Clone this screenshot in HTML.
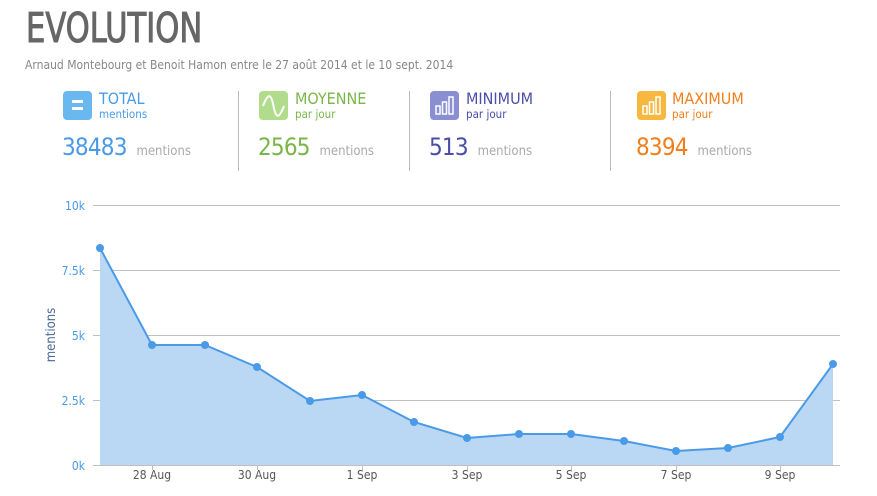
<!DOCTYPE html>
<html><head><meta charset="utf-8"><style>
body{margin:0;width:877px;height:496px;background:#fff;font-family:"DejaVu Sans Condensed","Liberation Sans",sans-serif;overflow:hidden}
.abs{position:absolute}
.num{font-size:24px;letter-spacing:-0.8px}
.num span{letter-spacing:0}
</style></head><body>
<div class="abs" style="left:26px;top:4px;font-size:41px;color:#666;transform:scaleX(0.83);transform-origin:0 0;-webkit-text-stroke:1px #666">EVOLUTION</div>
<div class="abs" style="left:25px;top:58px;font-size:12px;color:#888">Arnaud Montebourg et Benoit Hamon entre le 27 août 2014 et le 10 sept. 2014</div>

<div class="abs" style="left:63px;top:91px;width:29px;height:29px;border-radius:4px;background:#6ab8f0"><div class="abs" style="left:9px;top:9px;width:11px;height:3px;background:#fff"></div><div class="abs" style="left:9px;top:16px;width:11px;height:3px;background:#fff"></div></div>
<div class="abs" style="left:99px;top:89px;font-size:16px;color:#4a9ae8">TOTAL</div>
<div class="abs" style="left:99px;top:107px;font-size:11.5px;color:#4a9ae8">mentions</div>
<div class="abs num" style="left:62px;top:133px;color:#4a9ae8">38483 <span style="font-size:13px;color:#aaa">&nbsp;mentions</span></div>
<div class="abs" style="left:238px;top:91px;width:1px;height:80px;background:#bbb"></div>

<div class="abs" style="left:259px;top:91px;width:29px;height:29px;border-radius:4px;background:#b0dc8c"><svg width="29" height="29"><path d="M4 15 C9 2 12 2 14.5 15 S20 28 25 15" stroke="#fff" stroke-width="2" fill="none"/></svg></div>
<div class="abs" style="left:295px;top:89px;font-size:16px;color:#7ab648">MOYENNE</div>
<div class="abs" style="left:295px;top:107px;font-size:11.5px;color:#7ab648">par jour</div>
<div class="abs num" style="left:258px;top:133px;color:#7ab648">2565 <span style="font-size:13px;color:#aaa">&nbsp;mentions</span></div>
<div class="abs" style="left:409px;top:91px;width:1px;height:80px;background:#bbb"></div>

<div class="abs" style="left:430px;top:91px;width:29px;height:29px;border-radius:4px;background:#8a8fd4"><svg width="29" height="29" fill="none" stroke="#fff" stroke-width="1.5"><rect x="6" y="15" width="4" height="8"/><rect x="12.5" y="11" width="4" height="12"/><rect x="19" y="6" width="4" height="17"/></svg></div>
<div class="abs" style="left:466px;top:89px;font-size:16px;color:#4a4ea8">MINIMUM</div>
<div class="abs" style="left:466px;top:107px;font-size:11.5px;color:#4a4ea8">par jour</div>
<div class="abs num" style="left:429px;top:133px;color:#4a4ea8">513 <span style="font-size:13px;color:#aaa">&nbsp;mentions</span></div>
<div class="abs" style="left:610px;top:91px;width:1px;height:80px;background:#bbb"></div>

<div class="abs" style="left:637px;top:91px;width:29px;height:29px;border-radius:4px;background:#f8b840"><svg width="29" height="29" fill="none" stroke="#fff" stroke-width="1.5"><rect x="6" y="15" width="4" height="8"/><rect x="12.5" y="11" width="4" height="12"/><rect x="19" y="6" width="4" height="17"/></svg></div>
<div class="abs" style="left:672px;top:89px;font-size:16px;color:#f07f1a">MAXIMUM</div>
<div class="abs" style="left:672px;top:107px;font-size:11.5px;color:#f07f1a">par jour</div>
<div class="abs num" style="left:636px;top:133px;color:#f07f1a">8394 <span style="font-size:13px;color:#aaa">&nbsp;mentions</span></div>

<svg class="abs" style="left:0;top:0" width="877" height="496" font-family="DejaVu Sans Condensed, Liberation Sans, sans-serif">
<g stroke="#c0c0c0" stroke-width="1">
<line x1="93" x2="840" y1="205.5" y2="205.5"/><line x1="93" x2="840" y1="270.5" y2="270.5"/><line x1="93" x2="840" y1="335.5" y2="335.5"/><line x1="93" x2="840" y1="400.5" y2="400.5"/><line x1="93" x2="840" y1="465.5" y2="465.5"/>
<line x1="152.5" x2="152.5" y1="465" y2="470"/><line x1="257.5" x2="257.5" y1="465" y2="470"/><line x1="362.5" x2="362.5" y1="465" y2="470"/><line x1="467.5" x2="467.5" y1="465" y2="470"/><line x1="571.5" x2="571.5" y1="465" y2="470"/><line x1="676.5" x2="676.5" y1="465" y2="470"/><line x1="780.5" x2="780.5" y1="465" y2="470"/>
</g>
<g font-size="12" fill="#4a9ae8" text-anchor="end">
<text x="85" y="210">10k</text><text x="85" y="275">7.5k</text><text x="85" y="340">5k</text><text x="85" y="405">2.5k</text><text x="85" y="470">0k</text>
</g>
<text transform="translate(55,335) rotate(-90)" font-size="13" fill="#4a6a98" text-anchor="middle">mentions</text>
<g font-size="12" fill="#555" text-anchor="middle">
<text x="152" y="479">28 Aug</text><text x="257" y="479">30 Aug</text><text x="362" y="479">1 Sep</text><text x="467" y="479">3 Sep</text><text x="571" y="479">5 Sep</text><text x="676" y="479">7 Sep</text><text x="780" y="479">9 Sep</text>
</g>
<polygon fill="#bad8f4" points="100,465 100,248 152,345 205,345 257,367 310,401 362,395 414,422 467,438 519,434 571,434 624,441 676,451 728,448 780,437 833,364 833,465"/>
<polyline fill="none" stroke="#4a9ae8" stroke-width="2" points="100,248 152,345 205,345 257,367 310,401 362,395 414,422 467,438 519,434 571,434 624,441 676,451 728,448 780,437 833,364"/>
<g fill="#4a9ae8">
<circle cx="100" cy="248" r="4"/><circle cx="152" cy="345" r="4"/><circle cx="205" cy="345" r="4"/><circle cx="257" cy="367" r="4"/><circle cx="310" cy="401" r="4"/><circle cx="362" cy="395" r="4"/><circle cx="414" cy="422" r="4"/><circle cx="467" cy="438" r="4"/><circle cx="519" cy="434" r="4"/><circle cx="571" cy="434" r="4"/><circle cx="624" cy="441" r="4"/><circle cx="676" cy="451" r="4"/><circle cx="728" cy="448" r="4"/><circle cx="780" cy="437" r="4"/><circle cx="833" cy="364" r="4"/>
</g>
</svg>
</body></html>
